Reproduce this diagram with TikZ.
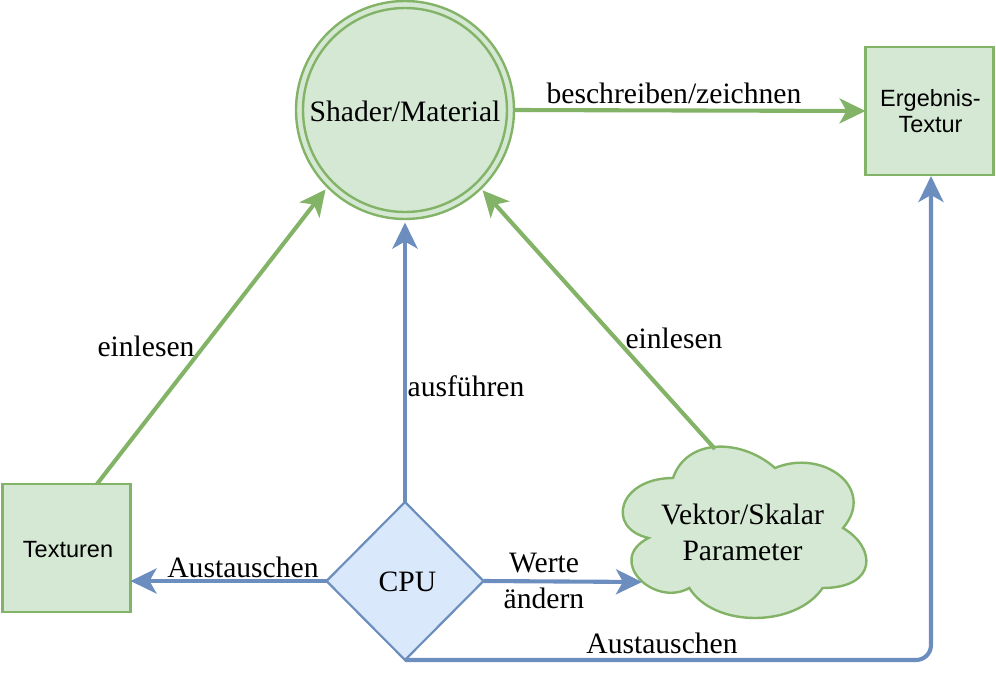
\documentclass[tikz,border=0pt]{standalone}
\usepackage{fontspec}
\setmainfont{Liberation Serif}
\newfontfamily\boxfont{Liberation Sans}
\usetikzlibrary{arrows.meta,shapes.geometric,calc}
\definecolor{gstroke}{HTML}{82B366}
\definecolor{gfill}{HTML}{D5E8D4}
\definecolor{bstroke}{HTML}{6C8EBF}
\definecolor{bfill}{HTML}{DAE8FC}
\tikzset{
  every node/.style={inner sep=0pt, outer sep=0pt},
  gbox/.style={draw=gstroke, fill=gfill, line width=2.4pt, minimum width=128pt, minimum height=128pt},
  boxtext/.style={font=\boxfont\fontsize{23.5}{26}\selectfont, align=center, text=black},
  lbl/.style={font=\fontsize{29.6}{36}\selectfont, align=center, text=black},
  tipshape/.style={-{Stealth[length=26pt,width=25pt,inset=7pt]}},
  garrow/.style={draw=gstroke, line width=4.1pt, tipshape},
  barrow/.style={draw=bstroke, line width=4.1pt, tipshape},
}
\begin{document}
\begin{tikzpicture}[x=1pt,y=-1pt]
\useasboundingbox (0,0) rectangle (996,696);

% Shader/Material double circle
\node[circle, draw=gstroke, fill=gfill, line width=2.4pt, minimum size=218pt] (sm) at (405,110) {};
\draw[gstroke, line width=2.4pt] (sm.center) circle[radius=102pt];
\node[lbl, anchor=base] (smtext) at (405,121.7) {Shader/Material};

% Ergebnis-Textur
\node[gbox] (erg) at (929.5,111) {};
\node[boxtext] (ergtext) at (930.5,111) {Ergebnis-\\Textur};

% Texturen
\node[gbox] (tex) at (66.5,548) {};
\node[boxtext, anchor=base] (textext) at (68,557) {Texturen};

% CPU diamond
\node[diamond, draw=bstroke, fill=bfill, line width=2.2pt, minimum width=157pt, minimum height=158pt] (cpu) at (405,581) {};
\node[lbl, anchor=base] (cputext) at (407.5,591) {CPU};

% Cloud
\draw[gstroke, fill=gfill, line width=2.4pt]
  (673,478) .. controls (618.6,478) and (605,528) .. (648.52,538)
  .. controls (605,560) and (653.96,608) .. (689.32,588)
  .. controls (713.8,628) and (795.4,628) .. (822.6,588)
  .. controls (877,588) and (877,548) .. (843,528)
  .. controls (877,488) and (822.6,448) .. (775,468)
  .. controls (741,438) and (686.6,438) .. (673,478) -- cycle;
\node[lbl] (cl) at (742.5,532.5) {Vektor/Skalar\\Parameter};
\coordinate (cltop) at (715,449);
\coordinate (clleft) at (642,582);

% connectors
\draw[garrow] (sm.east) -- (erg.west);
\node[lbl, anchor=base] (l1) at (674,103) {beschreiben/zeichnen};

\draw[garrow] ([xshift=30.5pt]tex.north) -- ($(sm.center)!1.031!(sm.225.4)$);
\node[lbl, anchor=base] (l2) at (146,356) {einlesen};

\draw[garrow] (cltop) -- ($(sm.center)!1.025!(sm.314.3)$);
\node[lbl, anchor=base] (l3) at (674,348) {einlesen};

\draw[barrow] (cpu.north) -- ([yshift=-3.5pt]sm.south);
\node[lbl, anchor=base] (l4) at (466,396) {ausführen};

\draw[barrow] (cpu.west) -- (cpu.west -| tex.east);
\node[lbl, anchor=base] (l5) at (243,577) {Austauschen};

\draw[barrow] (cpu.east) -- (clleft);
\node[lbl] (l6) at (544,581.3) {Werte\\ändern};

\draw[barrow, rounded corners=15pt] (cpu.south) -| ([xshift=1.5pt,yshift=-1pt]erg.south);
\node[lbl, anchor=base] (l7) at (662,653) {Austauschen};
\end{tikzpicture}
\end{document}
